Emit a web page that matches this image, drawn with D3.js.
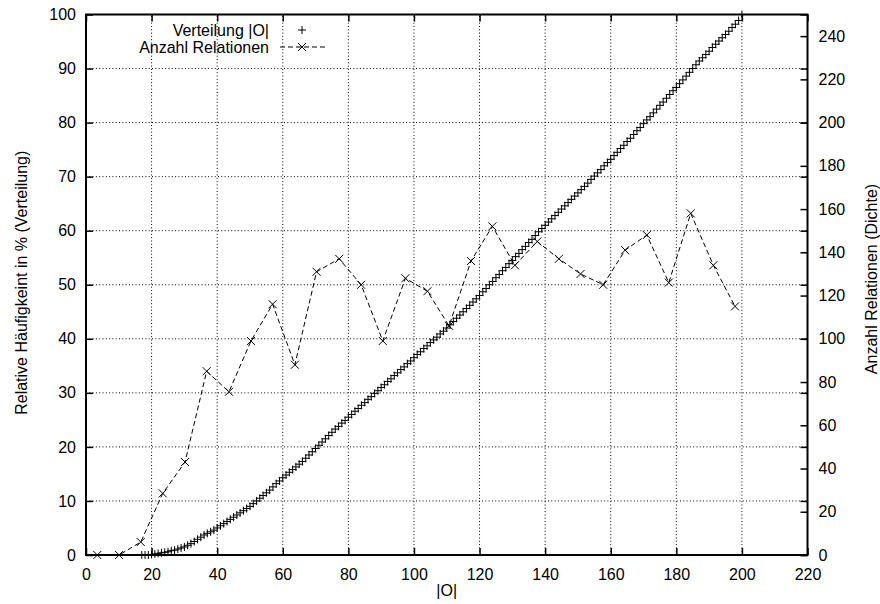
<!DOCTYPE html>
<html>
<head>
<meta charset="utf-8">
<script src="https://cdn.jsdelivr.net/npm/d3@7/dist/d3.min.js"></script>
<style>
body{margin:0;background:#fff;}
text{font-family:"Liberation Sans",Arial,Helvetica,sans-serif;font-size:16px;fill:#000;}
</style>
</head>
<body>
<svg id="chart" width="880" height="604"></svg>
<script>
// ---- data ----
const xTicks = [0,20,40,60,80,100,120,140,160,180,200,220];
const yLeftTicks = [0,10,20,30,40,50,60,70,80,90,100];
const yRightTicks = [0,20,40,60,80,100,120,140,160,180,200,220,240];

// Verteilung |O| : cumulative relative frequency (%) at |O| = 17 ... 200
const verteilungX = [17,18,19,20,21,22,23,24,25,26,27,28,29,30,31,32,33,34,35,36,37,38,39,40,41,42,43,44,45,46,47,48,49,50,
 51,52,53,54,55,56,57,58,59,60,61,62,63,64,65,66,67,68,69,70,71,72,73,74,75,76,77,78,79,80,81,82,83,84,85,86,87,88,89,90,
 91,92,93,94,95,96,97,98,99,100,101,102,103,104,105,106,107,108,109,110,111,112,113,114,115,116,117,118,119,120,
 121,122,123,124,125,126,127,128,129,130,131,132,133,134,135,136,137,138,139,140,141,142,143,144,145,146,147,148,149,150,
 151,152,153,154,155,156,157,158,159,160,161,162,163,164,165,166,167,168,169,170,171,172,173,174,175,176,177,178,179,180,
 181,182,183,184,185,186,187,188,189,190,191,192,193,194,195,196,197,198,199,200];
const verteilungY = [0,0,0,0.1,0.2,0.3,0.4,0.5,0.6,0.8,0.9,1.1,1.3,1.5,1.8,2.1,2.5,2.9,3.3,3.7,4.0,4.3,4.6,5.0,5.4,5.8,6.2,6.6,7.0,7.4,7.8,8.2,8.6,9.0,
 9.5,10.0,10.5,11.0,11.5,12.0,12.6,13.2,13.7,14.3,14.8,15.3,15.8,16.3,16.8,17.3,17.9,18.5,19.1,19.7,20.3,20.9,21.5,22.1,22.7,23.3,23.8,24.4,24.9,25.5,
 26.0,26.6,27.1,27.7,28.2,28.8,29.3,29.9,30.4,31.0,31.5,32.1,32.6,33.2,33.7,34.3,34.8,35.4,35.9,36.5,
 37.1,37.6,38.2,38.7,39.3,39.8,40.3,40.9,41.4,42.0,42.6,43.2,43.8,44.4,45.0,45.6,46.2,46.8,47.4,48.0,
 48.7,49.3,50.0,50.6,51.3,51.9,52.6,53.2,53.9,54.5,55.2,55.8,56.5,57.1,57.8,58.4,59.1,59.8,60.4,61.0,
 61.6,62.2,62.8,63.4,64.0,64.6,65.2,65.8,66.4,67.0,67.6,68.2,68.8,69.5,70.1,70.7,71.3,72.0,72.6,73.2,
 73.9,74.5,75.2,75.8,76.5,77.1,77.8,78.5,79.1,79.8,80.5,81.1,81.8,82.5,83.2,83.8,84.5,85.2,85.9,86.5,
 87.2,87.9,88.6,89.3,90.0,90.7,91.4,92.0,92.6,93.2,93.9,94.5,95.1,95.7,96.3,96.9,97.6,98.2,98.9,100];

// Anzahl Relationen (Dichte), right axis
const relationenX = [3.45,10.1,16.7,23.4,30.2,36.8,43.6,50.3,56.9,63.7,70.3,77.2,83.9,90.5,97.4,104.1,110.7,117.4,123.9,130.8,
 137.6,144.2,150.8,157.7,164.4,171.0,177.7,184.4,191.3,197.9];
const relationenY = [0,0,6,28.5,43,85,75.5,99,116,88,131,137,125,99,128,122,106,136,152,134,
 145,137,130,125,141,148,126,158,134,115];

// ---- layout ----
const svg = d3.select("#chart");
const L = 86, R = 807.5, T = 14.5, B = 555;
const x = d3.scaleLinear().domain([0,220]).range([L,R]);
const yL = d3.scaleLinear().domain([0,100]).range([B,T]);
const yR = d3.scaleLinear().domain([0,250]).range([B,T]);

// grid
const grid = svg.append("g").attr("stroke","#000").attr("stroke-width",1).attr("stroke-dasharray","1,2.3");
grid.selectAll(".gx").data(xTicks.filter(d=>d>0&&d<220)).enter().append("line")
  .attr("x1",d=>x(d)).attr("x2",d=>x(d)).attr("y1",B).attr("y2",T);
grid.selectAll(".gy").data(yLeftTicks.filter(d=>d>0&&d<100)).enter().append("line")
  .attr("x1",L).attr("x2",R).attr("y1",d=>yL(d)).attr("y2",d=>yL(d));

function styleAxis(g){
  g.select(".domain").remove();
  g.selectAll(".tick line").attr("stroke","#000").attr("stroke-width",1.5);
  g.selectAll("text").attr("font-size",null).attr("font-family",null);
  g.attr("font-size",null).attr("font-family",null);
}
svg.append("g").attr("transform",`translate(0,${B})`)
  .call(d3.axisBottom(x).tickValues(xTicks).tickSize(-7).tickPadding(13.5).tickFormat(d3.format("d"))).call(styleAxis);
svg.append("g").attr("transform",`translate(0,${T})`)
  .call(d3.axisTop(x).tickValues(xTicks).tickSize(-7).tickFormat("")).call(styleAxis);
svg.append("g").attr("transform",`translate(${L},0)`)
  .call(d3.axisLeft(yL).tickValues(yLeftTicks).tickSize(-7).tickPadding(10).tickFormat(d3.format("d"))).call(styleAxis);
svg.append("g").attr("transform",`translate(${R},0)`)
  .call(d3.axisRight(yL).tickValues(yLeftTicks).tickSize(-7).tickFormat("")).call(styleAxis);
svg.append("g").attr("transform",`translate(${R},0)`)
  .call(d3.axisRight(yR).tickValues(yRightTicks).tickSize(-7).tickPadding(11).tickFormat(d3.format("d"))).call(styleAxis);

// frame
svg.append("rect").attr("x",L).attr("y",T).attr("width",R-L).attr("height",B-T)
  .attr("fill","none").attr("stroke","#000").attr("stroke-width",2);

// axis titles
svg.append("text").attr("x",(L+R)/2).attr("y",596).attr("text-anchor","middle").text("|O|");
svg.append("text").attr("transform",`translate(26.5,${(T+B)/2 - 2}) rotate(-90)`).attr("text-anchor","middle")
  .text("Relative Häufigkeint in % (Verteilung)");
svg.append("text").attr("transform",`translate(877,279) rotate(-90)`).attr("text-anchor","middle")
  .text("Anzahl Relationen (Dichte)");

const plusPath = "M-4,0H4M0,-4V4";
const crossPath = "M-4,-4L4,4M-4,4L4,-4";

// Verteilung markers
const vData = verteilungX.map((d,i)=>[d,verteilungY[i]]);
svg.append("g").selectAll("path").data(vData).enter().append("path")
  .attr("transform",d=>`translate(${x(d[0])},${yL(d[1])})`)
  .attr("d",plusPath).attr("stroke","#000").attr("stroke-width",1).attr("fill","none");

// Relationen line + markers
const rData = relationenX.map((d,i)=>[d,relationenY[i]]);
svg.append("path").datum(rData)
  .attr("d",d3.line().x(d=>x(d[0])).y(d=>yR(d[1])))
  .attr("fill","none").attr("stroke","#000").attr("stroke-width",1).attr("stroke-dasharray","5,3");
svg.append("g").selectAll("path").data(rData).enter().append("path")
  .attr("transform",d=>`translate(${x(d[0])},${yR(d[1])})`)
  .attr("d",crossPath).attr("stroke","#000").attr("stroke-width",1).attr("fill","none");

// legend
const lg = svg.append("g");
lg.append("text").attr("x",269).attr("y",36).attr("text-anchor","end").text("Verteilung |O|");
lg.append("path").attr("transform","translate(302,30)").attr("d",plusPath).attr("stroke","#000").attr("fill","none");
lg.append("text").attr("x",269).attr("y",53).attr("text-anchor","end").text("Anzahl Relationen");
lg.append("line").attr("x1",280).attr("x2",326).attr("y1",47).attr("y2",47)
  .attr("stroke","#000").attr("stroke-dasharray","5,3");
lg.append("path").attr("transform","translate(302,47)").attr("d",crossPath).attr("stroke","#000").attr("fill","none");
</script>
</body>
</html>
